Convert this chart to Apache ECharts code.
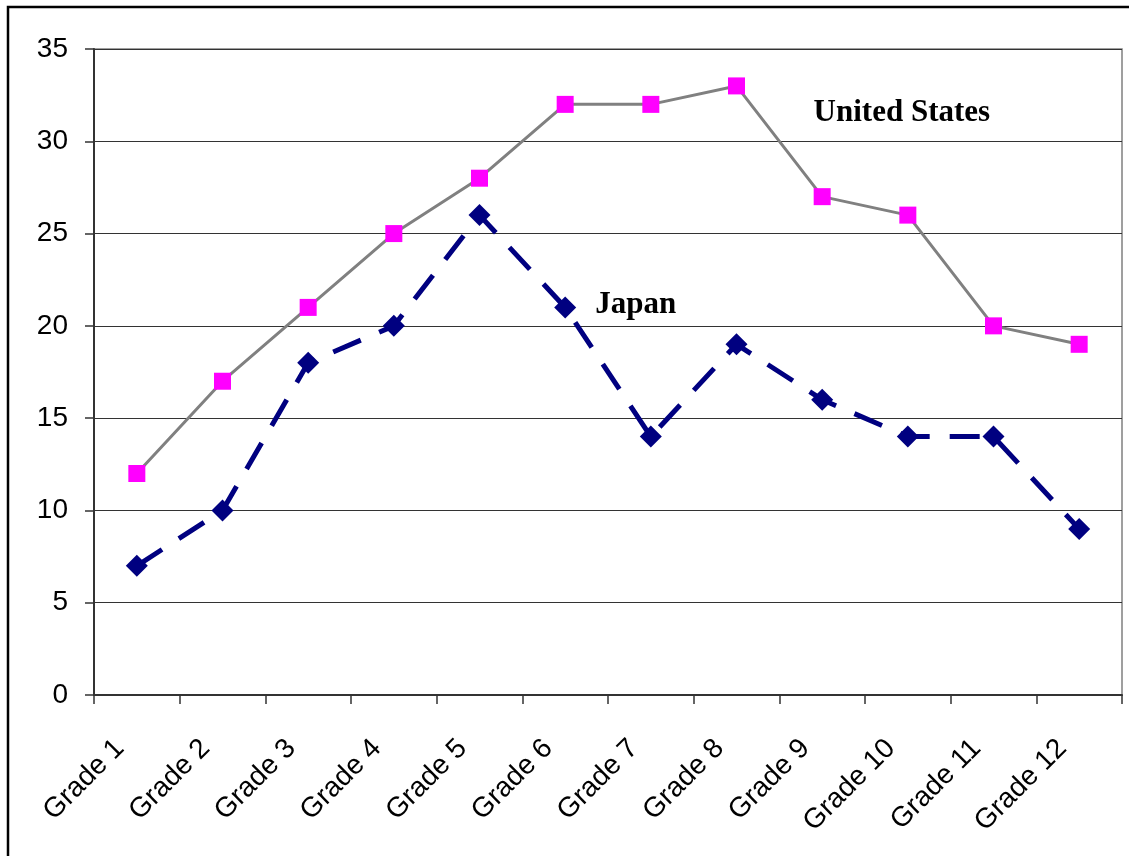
<!DOCTYPE html>
<html>
<head>
<meta charset="utf-8">
<script src="https://cdn.jsdelivr.net/npm/echarts@6/dist/echarts.min.js"></script>
<style>
  html, body { margin: 0; padding: 0; background: #fff; }
  #chart { width: 1129px; height: 856px; }
</style>
</head>
<body>
<div id="chart"></div>
<script>
// Grade levels along the horizontal axis
const grades = ['Grade 1', 'Grade 2', 'Grade 3', 'Grade 4', 'Grade 5', 'Grade 6',
                'Grade 7', 'Grade 8', 'Grade 9', 'Grade 10', 'Grade 11', 'Grade 12'];
// Values per grade for each country
const unitedStates = [12, 17, 21, 25, 28, 32, 32, 33, 27, 26, 20, 19];
const japan = [7, 10, 18, 20, 26, 21, 14, 19, 16, 14, 14, 9];

// Series name labels and the data coordinates they sit beside
const seriesLabels = [
  { text: 'United States', at: ['Grade 10', 31.8], dx: -6, dy: 5 },
  { text: 'Japan', at: ['Grade 7', 20.8], dx: -15, dy: -6 }
];

const sansFont = '"Liberation Sans", Arial, sans-serif';
const serifFont = '"Liberation Serif", "Times New Roman", serif';

const chart = echarts.init(document.getElementById('chart'), null, { renderer: 'canvas' });

chart.setOption({
  backgroundColor: '#ffffff',
  animation: false,
  grid: {
    left: 94, right: 7, top: 49, bottom: 161,
    show: true, borderColor: '#808080', borderWidth: 1.5
  },
  xAxis: {
    type: 'category',
    data: grades,
    boundaryGap: true,
    axisLine: { lineStyle: { color: '#333', width: 2 } },
    axisTick: { show: true, length: 9, lineStyle: { color: '#333', width: 1.5 } },
    axisLabel: {
      rotate: 45, margin: 32, padding: [0, 24, 0, 0], color: '#000',
      fontFamily: sansFont, fontSize: 28, interval: 0
    }
  },
  yAxis: {
    type: 'value',
    min: 0, max: 35, interval: 5,
    axisLine: { show: true, lineStyle: { color: '#333', width: 2 } },
    axisTick: { show: true, length: 9, lineStyle: { color: '#333', width: 1.5 } },
    splitLine: { lineStyle: { color: '#333', width: 1 } },
    axisLabel: { margin: 26, color: '#000', fontFamily: sansFont, fontSize: 28 }
  },
  series: [
    {
      name: 'United States',
      type: 'line',
      data: unitedStates,
      symbol: 'rect',
      symbolSize: 17,
      z: 3,
      lineStyle: { color: '#808080', width: 3 },
      itemStyle: { color: '#ff00ff' }
    },
    {
      name: 'Japan',
      type: 'line',
      data: japan,
      symbol: 'diamond',
      symbolSize: 22,
      z: 4,
      lineStyle: { color: '#000080', width: 5, type: [30, 20] },
      itemStyle: { color: '#000080' }
    }
  ]
});

// Outer frame plus the series name labels, placed through the axes
const graphics = [{
  type: 'rect',
  shape: { x: 8, y: 7, width: 1200, height: 900 },
  style: { fill: 'none', stroke: '#000', lineWidth: 2.5 },
  z: 100
}];
seriesLabels.forEach(function (l) {
  const p = chart.convertToPixel({ gridIndex: 0 }, l.at);
  graphics.push({
    type: 'text',
    x: p[0] + l.dx, y: p[1] + l.dy,
    style: {
      text: l.text, fill: '#000', align: 'center', verticalAlign: 'middle',
      font: 'bold 31px ' + serifFont
    },
    z: 50
  });
});
chart.setOption({ graphic: graphics });
</script>
</body>
</html>
